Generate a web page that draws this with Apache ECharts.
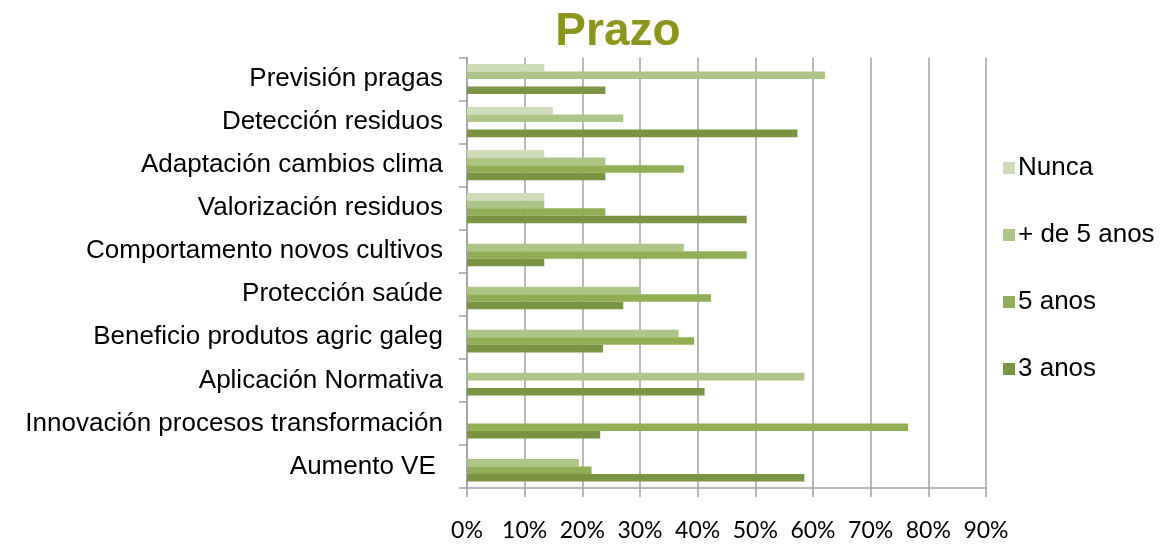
<!DOCTYPE html>
<html>
<head>
<meta charset="utf-8">
<script src="https://cdn.jsdelivr.net/npm/echarts@6/dist/echarts.min.js"></script>
<style>
html,body{margin:0;padding:0;background:#fff;}
#chart{width:1168px;height:544px;}
</style>
</head>
<body>
<div id="chart"></div>
<script>
// categories listed bottom to top
const categories = ['Aumento VE ', 'Innovación procesos transformación', 'Aplicación Normativa', 'Beneficio produtos agric galeg', 'Protección saúde', 'Comportamento novos cultivos', 'Valorización residuos', 'Adaptación cambios clima', 'Detección residuos', 'Previsión pragas'];
const nunca     = [0, 0, 0, 0, 0, 0, 13.4, 13.4, 14.9, 13.4];
const maisDe5   = [19.4, 0, 58.5, 36.7, 30.0, 37.6, 13.4, 24.0, 27.1, 62.1];
const cinco     = [21.6, 76.5, 0, 39.4, 42.3, 48.5, 24.0, 37.6, 0, 0];
const tres      = [58.5, 23.1, 41.2, 23.6, 27.1, 13.4, 48.5, 24.0, 57.3, 24.0];
const seriesNames = ['Nunca', '+ de 5 anos', '5 anos', '3 anos'];
const xTickLabels = ['0%', '10%', '20%', '30%', '40%', '50%', '60%', '70%', '80%', '90%'];
const colors = {'Nunca': '#cfdcb9', '+ de 5 anos': '#adc686', '5 anos': '#92ae55', '3 anos': '#7a9444'};

const dataBy = {'3 anos': tres, '5 anos': cinco, '+ de 5 anos': maisDe5, 'Nunca': nunca};

const chart = echarts.init(document.getElementById('chart'));
chart.setOption({
  animation: false,
  title: {
    text: 'Prazo',
    left: 613, top: 4,
    textAlign: 'center',
    textStyle: {fontFamily: 'Liberation Sans', fontWeight: 'bold', fontSize: 46, color: '#8c961c'}
  },
  legend: {
    orient: 'vertical',
    left: 998, top: 150,
    data: seriesNames,
    icon: 'rect',
    itemWidth: 12, itemHeight: 12,
    itemGap: 41,
    textStyle: {fontFamily: 'Liberation Sans', fontSize: 26, color: '#000', lineHeight: 26, padding: [0,0,0,-2]}
  },
  grid: {left: 467, right: 182, top: 57.5, bottom: 56, containLabel: false},
  xAxis: {
    type: 'value', min: 0, max: 90, interval: 10,
    axisLine: {show: true, lineStyle: {color: '#a0a0a0', width: 1.5}},
    axisTick: {show: true, length: 9, lineStyle: {color: '#a0a0a0', width: 1.5}},
    splitLine: {show: true, lineStyle: {color: '#a0a0a0', width: 1.5}},
    axisLabel: {formatter: v => xTickLabels[Math.round(v / 10)], fontFamily: 'Lato', fontSize: 23, color: '#000', margin: 31}
  },
  yAxis: {
    type: 'category', data: categories,
    axisLine: {show: true, lineStyle: {color: '#a0a0a0', width: 1.5}},
    axisTick: {show: true, length: 8, lineStyle: {color: '#a0a0a0', width: 1.5}},
    axisLabel: {fontFamily: 'Liberation Sans', fontSize: 26, color: '#000', margin: 24}
  },
  series: seriesNames.map(n => ({
    name: n, type: 'bar', data: dataBy[n],
    barGap: '0%', barCategoryGap: '30%',
    itemStyle: {color: colors[n]}
  }))
});
</script>
</body>
</html>
